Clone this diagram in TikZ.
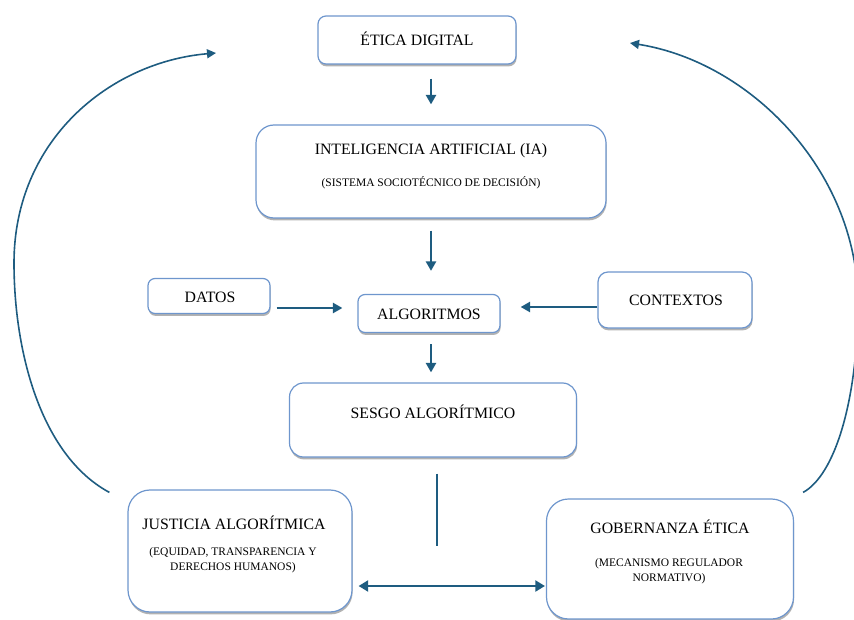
\documentclass[tikz,border=0pt]{standalone}
\usepackage{fontspec}
\setmainfont{Liberation Serif}
\usetikzlibrary{arrows.meta,shadows,calc}
\definecolor{boxline}{RGB}{110,150,205}
\definecolor{arrowc}{RGB}{30,92,128}
\tikzset{
  box/.style={draw=boxline, line width=1.2pt, fill=white, rounded corners=#1,
    drop shadow={shadow xshift=0.6pt, shadow yshift=-2.4pt, opacity=0.5, fill=black!60}},
  box/.default=8pt,
  ttl/.style={font=\fontsize{15.8}{17}\selectfont, inner sep=0pt},
  sub/.style={font=\fontsize{11.5}{15}\selectfont, align=center, inner sep=0pt},
  arr/.style={draw=arrowc, line width=2.3pt, -{Triangle[length=9.5pt,width=10pt]}},
  darr/.style={draw=arrowc, line width=2pt, {Triangle[length=9.5pt,width=11pt]}-{Triangle[length=9.5pt,width=11pt]}},
  ln/.style={draw=arrowc, line width=1.8pt},
  crv/.style={draw=arrowc, line width=1.6pt, -{Triangle[length=9pt,width=9pt]}}
}
\begin{document}
\begin{tikzpicture}[x=1pt,y=-1pt]
\useasboundingbox (0,0) rectangle (854,620);
% boxes
\node[box=8pt, minimum width=198pt, minimum height=48pt] (eti) at (417,40) {};
\node[box=18pt, minimum width=350pt, minimum height=93pt] (ia) at (431,171.5) {};
\node[box=7pt, minimum width=122pt, minimum height=35pt] (dat) at (209,296) {};
\node[box=7pt, minimum width=142pt, minimum height=38pt] (alg) at (429,313.5) {};
\node[box=10pt, minimum width=154pt, minimum height=56pt] (con) at (675,300) {};
\node[box=14pt, minimum width=287pt, minimum height=74pt] (ses) at (433,420) {};
\node[box=22pt, minimum width=224pt, minimum height=122pt] (jus) at (240,551) {};
\node[box=22pt, minimum width=247pt, minimum height=120pt] (gob) at (670,559) {};
% texts
\node[ttl] (t1) at (417,39) {ÉTICA DIGITAL};
\node[ttl] (t2) at (431,151) {INTELIGENCIA ARTIFICIAL (IA)};
\node[sub] (s2) at (431,183) {(SISTEMA SOCIOTÉCNICO DE DECISIÓN)};
\node[ttl] (t3) at (210,297) {DATOS};
\node[ttl] (t4) at (429,314) {ALGORITMOS};
\node[ttl] (t5) at (676,300) {CONTEXTOS};
\node[ttl] (t6) at (433,412) {SESGO ALGORÍTMICO};
\node[ttl] (t7) at (234,523) {JUSTICIA ALGORÍTMICA};
\node[sub] (s7) at (233,560) {(EQUIDAD, TRANSPARENCIA Y\\DERECHOS HUMANOS)};
\node[ttl] (t8) at (670,527) {GOBERNANZA ÉTICA};
\node[sub] (s8) at (669,571) {(MECANISMO REGULADOR\\NORMATIVO)};
% connector end points
\coordinate (a1s) at ($(eti.south)+(14,14)$);
\coordinate (a1e) at ($(ia.north)+(0,-20)$);
\coordinate (a2s) at ($(ia.south)+(0,12)$);
\coordinate (a2e) at ($(alg.north)+(2,-23)$);
\coordinate (a3s) at ($(dat.east)+(6,12)$);
\coordinate (a3e) at ($(alg.west)+(-15,-5.5)$);
\coordinate (a4s) at ($(con.west)+(0,7)$);
\coordinate (a4e) at ($(alg.east)+(20,-6.5)$);
\coordinate (a5s) at ($(alg.south)+(2,11)$);
\coordinate (a5e) at ($(ses.north)+(-2,-10)$);
\coordinate (l6s) at ($(ses.south)+(4,16)$);
\coordinate (l6e) at ($(ses.south)+(4,88)$);
\coordinate (d7s) at ($(jus.east)+(6,35)$);
\coordinate (d7e) at ($(gob.west)+(-1,27)$);
\coordinate (cLe) at (216,53);
\coordinate (cRe) at (630,43);
% connectors
\draw[arr] (a1s) -- (a1e);
\draw[arr] (a2s) -- (a2e);
\draw[arr] (a3s) -- (a3e);
\draw[arr] (a4s) -- (a4e);
\draw[arr] (a5s) -- (a5e);
\draw[ln] (l6s) -- (l6e);
\draw[darr] (d7s) -- (d7e);
\draw[crv] ($(jus.north west)+(-18,3)$) .. controls (40,455) and (14,350) .. (14,263) .. controls (14,140) and (110,62) .. (cLe);
\draw[crv] ($(gob.north east)+(9,-6)$) .. controls (835,475) and (858,400) .. (858,300) .. controls (856,170) and (750,62) .. (cRe);
\end{tikzpicture}
\end{document}
